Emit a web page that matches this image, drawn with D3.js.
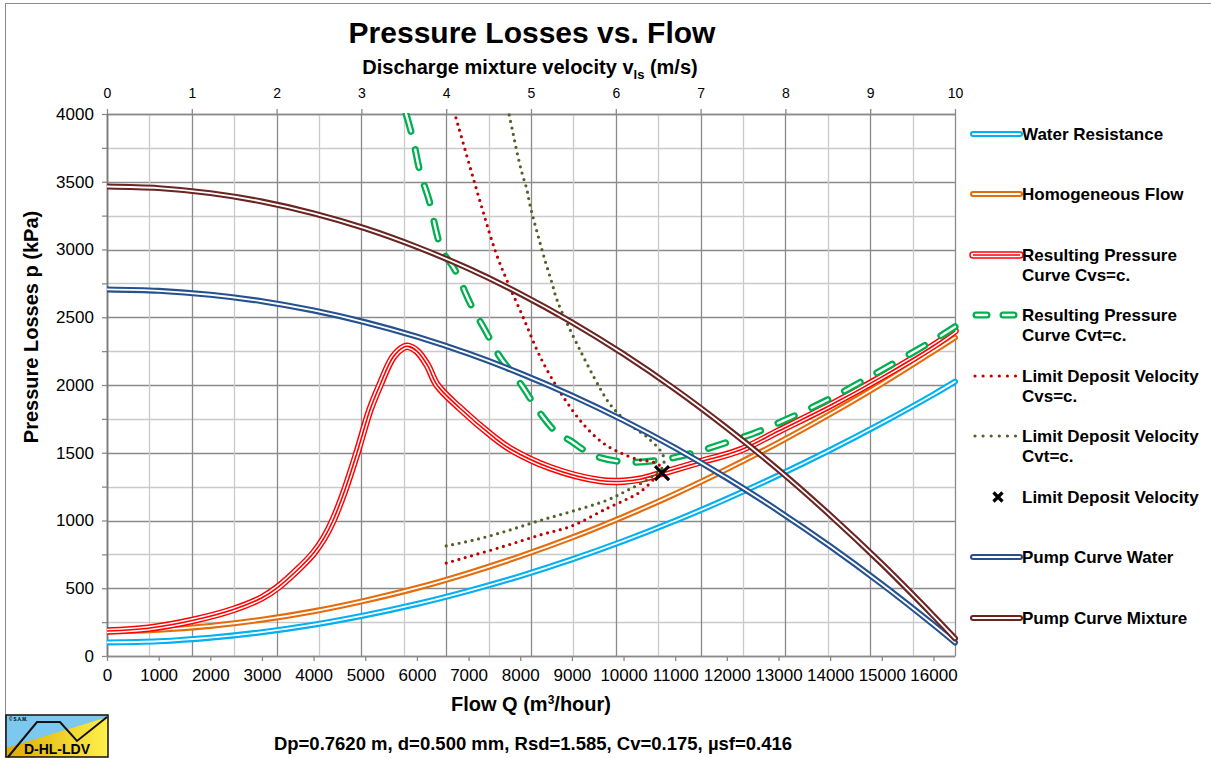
<!DOCTYPE html>
<html><head><meta charset="utf-8">
<script src="https://cdn.jsdelivr.net/npm/d3@7"></script>
<style>
body{margin:0;background:#fff;}
svg{display:block;}
text{font-family:"Liberation Sans",Arial,Helvetica,sans-serif;fill:#000;}
</style>
</head><body>
<svg id="chart" width="1211" height="758"></svg>
<script>
// ---------- DATA ----------
const chartTitle = "Pressure Losses vs. Flow";
const qMax = 16417;                 // m3/hour at 10 m/s
const flowTicks = d3.range(0, 16001, 1000);
const velocityTicks = d3.range(0, 11, 1);
const pressureTicks = d3.range(0, 4001, 500);

const qGrid = [0,1000,2000,3000,4000,5000,6000,7000,8000,9000,10000,11000,12000,13000,14000,15000,16000,16417];
const waterResistance = [100,109,135,176,231,301,384,481,590,713,849,998,1160,1334,1520,1719,1930,2025];
const homogeneousFlow = [182,193,222,268,330,409,502,612,736,874,1028,1196,1379,1575,1786,2010,2249,2350];
const pumpWater = [2705,2695,2666,2618,2550,2463,2357,2231,2086,1922,1739,1536,1313,1071,810,530,231,100];
const pumpMixture = [3465,3453,3416,3354,3267,3156,3019,2859,2673,2463,2228,1968,1683,1374,1039,681,297,130];

const cvsQ = [0,800,1650,2460,3000,3300,3740,4000,4200,4375,4600,4840,5090,5285,5540,5750,5830,6000,6200,6390,6830,7470,7800,8580,9540,10000,10320,10750,11480,12260,13000,14000,15000,16000,16417];
const cvsP = [185,205,262,345,430,505,655,760,870,1000,1220,1500,1815,2000,2207,2280,2285,2250,2148,2000,1830,1620,1530,1390,1295,1290,1305,1350,1432,1520,1660,1850,2060,2290,2400];

const cvtQ = [5790,5924,6060,6234,6480,6737,7028,7318,7608,7996,8383,8712,8964,9409,10029,10706,11345,11964,12500,13000,14000,15000,16000,16417];
const cvtP = [4000,3815,3572,3365,3000,2849,2605,2406,2207,2015,1793,1646,1590,1483,1432,1446,1498,1572,1640,1720,1900,2110,2330,2430];

const ldvCvsQ = [6567,7600,8383,9000,9544,9738,10029,10319,10600,10745,10650,10450,10319,9990,9602,9215,8906,8712,8518,8325,8054,7763,7531,7260,6757,6720];
const ldvCvsP = [686,800,893,960,1063,1100,1151,1210,1310,1375,1420,1440,1446,1491,1572,1713,1871,1985,2111,2258,2502,2753,2974,3306,3970,4020];

const ldvCvtQ = [6567,7200,7800,8383,9022,9680,10087,10513,10764,10764,10455,10126,9835,9680,9157,8712,8615,8518,8422,8189,8131,8034,7937,7860,7783,7770];
const ldvCvtP = [812,865,930,1000,1070,1150,1225,1314,1400,1483,1616,1705,1815,1889,2258,2627,2753,2871,2996,3328,3439,3565,3720,3860,4000,4030];

const ldvPointQ = [10745];
const ldvPointP = [1350];

const legendLabels = [
  ["Water Resistance"],
  ["Homogeneous Flow"],
  ["Resulting Pressure","Curve Cvs=c."],
  ["Resulting Pressure","Curve Cvt=c."],
  ["Limit Deposit Velocity","Cvs=c."],
  ["Limit Deposit Velocity","Cvt=c."],
  ["Limit Deposit Velocity"],
  ["Pump Curve Water"],
  ["Pump Curve Mixture"]
];
const subtitle = "Dp=0.7620 m, d=0.500 mm, Rsd=1.585, Cv=0.175, \u00b5sf=0.416";

// ---------- DRAW ----------
const svg = d3.select("#chart");
const L = 107, R = 955, T = 114, B = 656;
const x = d3.scaleLinear().domain([0, qMax]).range([L, R]);
const xv = d3.scaleLinear().domain([0, 10]).range([L, R]);
const y = d3.scaleLinear().domain([0, 4000]).range([B, T]);

const C = {
  water: "#00B0F0", homog: "#E46C0A", cvs: "#FF0000", cvt: "#00B050",
  ldvCvs: "#C00000", ldvCvt: "#4F6228", pumpW: "#25528F", pumpM: "#6A2422"
};

// outer border
svg.append("rect").attr("x",5.5).attr("y",3.5).attr("width",1220).attr("height",800)
  .attr("fill","none").attr("stroke","#8c8c8c").attr("stroke-width",1);

// grid
const grid = svg.append("g");
d3.range(0, 4001, 250).forEach(p => {
  grid.append("line").attr("x1",L).attr("x2",R).attr("y1",Math.round(y(p))+0.5).attr("y2",Math.round(y(p))+0.5)
    .attr("stroke", p % 500 === 0 ? "#8a8a8a" : "#cacaca").attr("stroke-width", 1.3);
});
d3.range(0, 10.01, 0.5).forEach(vv => {
  grid.append("line").attr("y1",T).attr("y2",B).attr("x1",Math.round(xv(vv))+0.5).attr("x2",Math.round(xv(vv))+0.5)
    .attr("stroke", Number.isInteger(vv) ? "#8a8a8a" : "#cacaca").attr("stroke-width", 1.3);
});

// axes
const axisColor = "#8a8a8a";
const gB = svg.append("g").attr("transform",`translate(0,${B})`)
  .call(d3.axisBottom(x).tickValues(flowTicks).tickSize(5).tickSizeOuter(0).tickFormat(d3.format("d")));
gB.selectAll("text").attr("font-size",17).attr("dy","1.0em");
const gL = svg.append("g").attr("transform",`translate(${L},0)`)
  .call(d3.axisLeft(y).tickValues(d3.range(0,4001,250)).tickSize(5).tickSizeOuter(0)
    .tickFormat(d => d % 500 === 0 ? d : ""));
gL.selectAll("text").attr("font-size",17).attr("dx","-0.3em");
const gT = svg.append("g").attr("transform",`translate(0,${T})`)
  .call(d3.axisTop(xv).tickValues(velocityTicks).tickSize(5).tickSizeOuter(0));
gT.selectAll("text").attr("font-size",14).attr("dy","-0.6em");
[gB,gL,gT].forEach(g => {
  g.selectAll("path").attr("stroke",axisColor).attr("stroke-width",1.3);
  g.selectAll("line").attr("stroke",axisColor).attr("stroke-width",1.3);
  g.selectAll("text").attr("font-family","Liberation Sans, Arial, sans-serif").attr("fill","#000");
});
svg.append("line").attr("x1",L+0.5).attr("x2",L+0.5).attr("y1",T).attr("y2",B).attr("stroke","#7a7a7a").attr("stroke-width",1.5);

// clip
svg.append("clipPath").attr("id","plotclip").append("rect").attr("x",L).attr("y",T-1).attr("width",R-L+6).attr("height",B-T+1);
const plot = svg.append("g").attr("clip-path","url(#plotclip)");

const line = d3.line().x(d => x(d[0])).y(d => y(d[1])).curve(d3.curveCatmullRom.alpha(0.5));
const zip = (qs, ps) => qs.map((q,i) => [q, ps[i]]);

function doubleLine(g, d, color, w, iw) {
  g.append("path").attr("d", d).attr("fill","none").attr("stroke",color).attr("stroke-width",w).attr("stroke-linecap","round").attr("stroke-linejoin","round");
  g.append("path").attr("d", d).attr("fill","none").attr("stroke","#fff").attr("stroke-width",iw).attr("stroke-linecap","round").attr("stroke-linejoin","round");
}
function tripleLine(g, d, color) {
  doubleLine(g, d, color, 7.5, 4.6);
  g.append("path").attr("d", d).attr("fill","none").attr("stroke",color).attr("stroke-width",1.6).attr("stroke-linejoin","round");
}
function dashedDouble(g, d, color, dash) {
  g.append("path").attr("d", d).attr("fill","none").attr("stroke",color).attr("stroke-width",7).attr("stroke-linecap","round").attr("stroke-dasharray",dash);
  g.append("path").attr("d", d).attr("fill","none").attr("stroke","#fff").attr("stroke-width",2.4).attr("stroke-linecap","round").attr("stroke-dasharray",dash);
}
function dotted(g, d, color) {
  g.append("path").attr("d", d).attr("fill","none").attr("stroke",color).attr("stroke-width",3.2).attr("stroke-linecap","round").attr("stroke-dasharray","0,6.6");
}
function cross(g, cx, cy, s) {
  g.append("path").attr("d",`M${cx-s},${cy-s}L${cx+s},${cy+s}M${cx-s},${cy+s}L${cx+s},${cy-s}`)
    .attr("stroke","#000").attr("stroke-width",3.2).attr("fill","none");
}

doubleLine(plot, line(zip(qGrid, waterResistance)), C.water, 6, 1.8);
doubleLine(plot, line(zip(qGrid, homogeneousFlow)), C.homog, 6, 1.8);
tripleLine(plot, line(zip(cvsQ, cvsP)), C.cvs);
dashedDouble(plot, line(zip(cvtQ, cvtP)), C.cvt, "18,19");
dotted(plot, line(zip(ldvCvsQ, ldvCvsP)), C.ldvCvs);
dotted(plot, line(zip(ldvCvtQ, ldvCvtP)), C.ldvCvt);
doubleLine(plot, line(zip(qGrid, pumpWater)), C.pumpW, 6, 1.8);
doubleLine(plot, line(zip(qGrid, pumpMixture)), C.pumpM, 6, 1.8);
ldvPointQ.forEach((q,i) => cross(plot, x(q), y(ldvPointP[i]), 7));

// titles
svg.append("text").attr("x",532).attr("y",43).attr("text-anchor","middle").attr("font-size",30).attr("font-weight","bold").text(chartTitle);
const tt = svg.append("text").attr("x",530).attr("y",74).attr("text-anchor","middle").attr("font-size",20).attr("font-weight","bold");
tt.append("tspan").text("Discharge mixture velocity v");
tt.append("tspan").attr("font-size",13).attr("dy",5).text("ls");
tt.append("tspan").attr("dy",-5).text(" (m/s)");
const xt = svg.append("text").attr("x",531).attr("y",711).attr("text-anchor","middle").attr("font-size",20).attr("font-weight","bold");
xt.append("tspan").text("Flow Q (m");
xt.append("tspan").attr("font-size",12).attr("dy",-7).text("3");
xt.append("tspan").attr("dy",7).text("/hour)");
svg.append("text").attr("transform","translate(38,327) rotate(-90)").attr("text-anchor","middle").attr("font-size",20).attr("font-weight","bold").text("Pressure Losses p (kPa)");
svg.append("text").attr("x",533).attr("y",750).attr("text-anchor","middle").attr("font-size",18.5).attr("font-weight","bold").text(subtitle);

// legend
const legY = [134,194,255,315,376,436,497,557,618];
const lg = svg.append("g");
const lx1 = 973, lx2 = 1020;
const seg = (yy) => `M${lx1},${yy}L${lx2},${yy}`;
doubleLine(lg, seg(legY[0]), C.water, 6, 1.8);
doubleLine(lg, seg(legY[1]), C.homog, 6, 1.8);
tripleLine(lg, seg(legY[2]), C.cvs);
lg.append("path").attr("d",`M${lx1+3},${legY[3]}L${lx2-2},${legY[3]}`).attr("fill","none").attr("stroke",C.cvt).attr("stroke-width",7).attr("stroke-linecap","round").attr("stroke-dasharray","11,16");
lg.append("path").attr("d",`M${lx1+3},${legY[3]}L${lx2-2},${legY[3]}`).attr("fill","none").attr("stroke","#fff").attr("stroke-width",2.4).attr("stroke-linecap","round").attr("stroke-dasharray","11,16");
lg.append("path").attr("d",`M975,${legY[4]}L1016,${legY[4]}`).attr("stroke",C.ldvCvs).attr("stroke-width",3.2).attr("stroke-linecap","round").attr("stroke-dasharray","0,8.1");
lg.append("path").attr("d",`M975,${legY[5]}L1016,${legY[5]}`).attr("stroke",C.ldvCvt).attr("stroke-width",3.2).attr("stroke-linecap","round").attr("stroke-dasharray","0,8.1");
cross(lg, 998, legY[6], 4.5);
doubleLine(lg, seg(legY[7]), C.pumpW, 6, 1.8);
doubleLine(lg, seg(legY[8]), C.pumpM, 6, 1.8);
legendLabels.forEach((lines,i) => {
  const t = lg.append("text").attr("x",1022).attr("y",legY[i]+6).attr("font-size",17).attr("font-weight","bold");
  lines.forEach((s,j) => t.append("tspan").attr("x",1022).attr("dy", j===0?0:20).text(s));
});

// logo
const logo = svg.append("g");
const defs = svg.append("defs");
const grad = defs.append("linearGradient").attr("id","yg").attr("x1","0").attr("x2","1").attr("y1","0").attr("y2","0");
grad.append("stop").attr("offset","0").attr("stop-color","#DDAA00");
grad.append("stop").attr("offset","1").attr("stop-color","#FFF04A");
logo.append("rect").attr("x",6).attr("y",715).attr("width",102).attr("height",42).attr("fill","url(#yg)");
logo.append("path").attr("d","M6,715L108,715L108,717L6,748Z").attr("fill","#7CC8EE");
logo.append("path").attr("d","M8,757L37,722L60,722L77,741L107,717").attr("fill","none").attr("stroke","#111").attr("stroke-width",2);
logo.append("rect").attr("x",6).attr("y",715).attr("width",102).attr("height",42).attr("fill","none").attr("stroke","#111").attr("stroke-width",1.5);
logo.append("text").attr("x",57).attr("y",754).attr("text-anchor","middle").attr("font-size",14).attr("font-weight","bold").attr("fill","#111").text("D-HL-LDV");
logo.append("text").attr("x",9).attr("y",721).attr("font-size",4.5).attr("font-weight","bold").text("\u00a9 S.A.M.");
</script>
</body></html>
